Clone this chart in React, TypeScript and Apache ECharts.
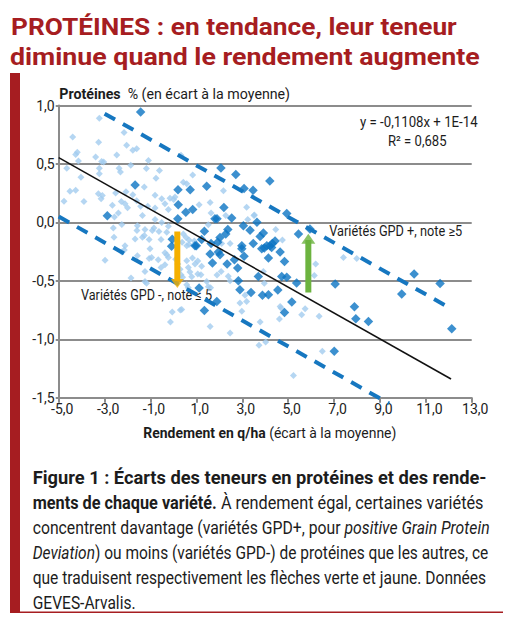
import React, { useEffect, useRef } from "react";
import * as echarts from "echarts";

// ---- Data (x: rendement écart q/ha, y: protéines écart %) ----
const lightPoints: [number, number][] = [
  [-3.23, 0.89], [-2.15, 0.77], [-4.39, 0.73], [-3.26, 0.685], [-2.04, 0.66], [-1.77, 0.617], [-1.6, 0.63],
  [-4.19, 0.6], [-4.26, 0.58], [-2.47, 0.577], [-3.39, 0.56], [-4.14, 0.525], [-3.13, 0.52], [-3.04, 0.517],
  [-1.09, 0.53], [0.33, 0.574], [-4.65, 0.463], [-3.23, 0.463], [-2.37, 0.463], [-2.31, 0.43], [-1.86, 0.488],
  [-1.18, 0.46], [-0.76, 0.377], [-0.61, 0.443], [-3.23, 0.417], [-4.03, 0.386], [0.43, 0.343], [0.58, 0.33],
  [0.84, 0.406], [-4.51, 0.266], [-4.26, 0.275], [-3.27, 0.246], [-3.1, 0.23], [-3.15, 0.203], [-2.52, 0.252],
  [-2.07, 0.263], [-1.77, 0.237], [-1.27, 0.303], [-0.8, 0.232], [-0.51, 0.203], [-0.15, 0.206], [0.07, 0.217],
  [-4.77, 0.18], [-3.9, 0.178], [-2.66, 0.146], [-2.27, 0.178], [-2.11, 0.16], [-2.0, 0.126], [-1.6, 0.186],
  [-1.43, 0.138], [-1.12, 0.138], [-0.8, 0.123], [-0.37, 0.16], [-0.22, 0.11], [0.01, 0.195], [-2.57, 0.047],
  [-2.4, 0.08], [-1.35, 0.058], [-0.8, 0.024], [-0.51, 0.0], [-2.25, -0.019], [-1.57, -0.028], [-1.59, -0.07],
  [-2.62, -0.048], [-2.59, -0.127], [-1.24, -0.06], [-0.85, -0.048], [-0.92, -0.07], [-0.63, -0.079],
  [-0.29, -0.085], [-0.22, -0.033], [-0.54, -0.147], [-1.06, -0.147], [-1.35, -0.127], [-1.27, -0.113],
  [-1.67, -0.142], [0.43, -0.1], [0.55, -0.13], [0.68, -0.15], [0.58, -0.2], [0.38, -0.17], [0.68, -0.19],
  [0.91, -0.16], [-2.11, -0.2],
  [-2.98, -0.325], [-2.14, -0.236], [-2.25, -0.254], [-1.02, -0.225], [-1.06, -0.31], [-0.95, -0.3],
  [-0.66, -0.32], [-0.37, -0.362], [-0.54, -0.385], [-1.24, -0.42], [-0.29, -0.277], [-0.22, -0.3],
  [-0.37, -0.26], [0.1, -0.316], [0.19, -0.356], [0.29, -0.4], [0.58, -0.328], [0.65, -0.385], [0.72, -0.425],
  [0.8, -0.465], [0.4, -0.47], [0.33, -0.448], [0.83, -0.305], [0.94, -0.356], [1.06, -0.442], [-1.85, -0.476],
  [-1.24, -0.505], [0.58, -0.533], [0.65, -0.56], [-0.05, -0.767], [0.3, -0.75], [0.36, -0.745], [-0.13, -0.852],
  [-1.57, -0.285], [-1.17, -0.52], [1.62, -0.56],
  [1.06, -0.33], [1.23, -0.376], [1.2, -0.448], [1.45, -0.505], [1.52, -0.55], [2.39, -0.46], [2.47, -0.5],
  [2.08, -0.42], [1.9, -0.45], [3.12, -0.624], [3.19, -0.676], [1.6, -0.89], [2.47, -0.946], [2.98, -0.76],
  [3.78, -0.852], [3.73, -1.052], [4.02, -1.023], [4.69, -0.733], [5.23, -1.309], [5.59, -0.79], [5.74, -0.738],
  [6.35, -0.804], [6.49, -1.103], [6.2, -0.356], [6.14, -0.454], [3.96, -0.52], [3.92, -0.42], [7.41, -0.3],
  [7.99, -0.31], [4.65, -0.72], [4.62, -0.826], [2.9, -0.69],
  [2.18, 0.27], [3.19, 0.13], [3.53, 0.064], [1.12, 0.15], [1.6, 0.17], [1.64, 0.08], [2.28, 0.058],
  [1.52, -0.02], [2.47, -0.18], [2.1, -0.18], [4.75, -0.15], [4.46, -0.06], [3.24, 0.024], [3.51, 0.058],
];

const darkPoints: [number, number][] = [
  [-1.43, 0.944], [-1.67, 0.32], [-2.88, 0.057], [0.2, 0.28], [0.73, 0.28], [0.84, 0.11], [0.21, 0.15],
  [0.54, 0.086], [0.19, 0.03], [-0.05, -0.145], [-0.08, -0.205], [1.0, -0.2], [1.45, 0.31], [2.07, 0.465],
  [2.72, 0.41], [3.08, 0.29], [2.2, 0.128], [3.47, 0.274], [4.2, 0.354],
  [1.81, 0.032], [1.9, 0.032], [2.54, 0.038], [3.64, 0.001], [3.05, -0.028], [4.94, 0.075], [5.45, -0.1],
  [5.95, -0.056], [2.37, -0.06], [2.28, -0.1], [3.34, -0.068], [3.92, -0.09], [3.78, -0.12], [4.43, -0.16],
  [4.31, -0.18], [4.21, -0.2], [4.07, -0.2], [3.48, -0.18], [2.98, -0.2], [2.03, -0.13], [1.93, -0.17],
  [1.64, -0.18], [1.23, -0.147], [1.35, -0.076], [0.94, -0.2],
  [1.6, -0.271], [1.7, -0.348], [1.96, -0.254], [2.03, -0.276], [2.34, -0.356], [2.66, -0.319], [2.8, -0.39],
  [2.98, -0.225], [3.08, -0.29], [3.85, -0.225], [3.96, -0.22], [4.14, -0.305], [4.28, -0.214], [4.65, -0.254],
  [4.84, -0.334], [3.7, -0.462], [4.72, -0.462], [4.94, -0.47], [2.83, -0.499], [2.9, -0.576], [3.38, -0.599],
  [3.88, -0.624], [4.14, -0.619], [4.55, -0.579], [5.37, -0.519], [5.16, -0.681], [4.84, -0.77], [1.12, -0.562],
  [1.89, -0.676], [1.35, -0.755], [7.01, -1.103],
  [10.49, -0.442], [11.62, -0.522], [9.95, -0.613], [7.89, -0.721], [7.95, -0.824], [8.5, -0.847],
  [12.13, -0.91], [7.05, -0.527],
];

const trendLine: [number, number][] = [[-5.0, 0.554], [12.1, -1.34]];
const upperDashed: [number, number][] = [[-3.0, 0.93], [11.85, -0.71]];
const lowerDashed: [number, number][] = [[-5.0, 0.05], [9.4, -1.55]];
const yellowBar: [number, number][] = [[0.17, -0.077], [0.17, -0.5]];
const yellowHead: [number, number][] = [[0.17, -0.523]];
const greenBar: [number, number][] = [[5.88, -0.6], [5.88, -0.15]];
const greenHead: [number, number][] = [[5.88, -0.14]];

const xTickMin = -5;
const xTickMax = 13;
const xTickStep = 2;
const yTickMin = -1.5;
const yTickMax = 1.0;
const yTickStep = 0.5;

const titleLines = ["PROTÉINES : en tendance, leur teneur", "diminue quand le rendement augmente"];
const yAxisTitle = ["Protéines", "  % (en écart à la moyenne)"];
const xAxisTitle = ["Rendement en q/ha", " (écart à la moyenne)"];
const equationText = "y = -0,1108x + 1E-14";
const r2Text = "R² = 0,685";
const gpdPlusText = "Variétés GPD +, note ≥5";
const gpdMinusText = "Variétés GPD -, note ≤ 5";

type Seg = { s: "b" | "n" | "i"; t: string };
const captionLines: Seg[][] = [
  [{ s: "b", t: "Figure 1 : Écarts des teneurs en protéines et des rende-" }],
  [{ s: "b", t: "ments de chaque variété." }, { s: "n", t: " À rendement égal, certaines variétés" }],
  [{ s: "n", t: "concentrent davantage (variétés GPD+, pour " }, { s: "i", t: "positive Grain Protein" }],
  [{ s: "i", t: "Deviation" }, { s: "n", t: ") ou moins (variétés GPD-) de protéines que les autres, ce" }],
  [{ s: "n", t: "que traduisent respectivement les flèches verte et jaune. Données" }],
  [{ s: "n", t: "GEVES-Arvalis." }],
];

const X_OFF = 5; // axis shift so that min is a multiple of the interval
const shift = (pts: [number, number][]) => pts.map(([x, y]) => [x + X_OFF, y]);
const fmt = (v: number) => v.toFixed(1).replace(".", ",");

const FAMILY = "Roboto";

let measureCtx: CanvasRenderingContext2D | null = null;
function measure(segs: Seg[], size: number): number {
  if (!measureCtx) measureCtx = document.createElement("canvas").getContext("2d");
  let w = 0;
  for (const sg of segs) {
    const weight = sg.s === "b" ? "bold" : "normal";
    const style = sg.s === "i" ? "italic" : "normal";
    measureCtx!.font = `${style} ${weight} ${size}px ${FAMILY}`;
    w += measureCtx!.measureText(sg.t).width;
  }
  return w;
}

function richText(segs: Seg[], x: number, y: number, size: number, fill: string, scale: number) {
  const mk = (weight: string, style: string) => ({
    fontSize: size, fontFamily: FAMILY, fontWeight: weight, fontStyle: style, fill,
  });
  return {
    type: "text",
    x,
    y,
    scaleX: scale,
    silent: true,
    style: {
      text: segs.map((sg) => `{${sg.s}|${sg.t}}`).join(""),
      rich: { b: mk("bold", "normal"), n: mk("normal", "normal"), i: mk("normal", "italic") },
      fontSize: size,
      fontFamily: FAMILY,
      fill,
      align: "left",
      verticalAlign: "middle",
    },
  };
}

function fitted(segs: Seg[], x: number, y: number, size: number, fill: string, width: number) {
  return richText(segs, x, y, size, fill, width / measure(segs, size));
}

export default function App() {
  const ref = useRef<HTMLDivElement>(null);
  useEffect(() => {
    if (!ref.current) return;
    const chart = echarts.init(ref.current, undefined, { renderer: "svg" });
    const red = "#a61d21";
    const grey = "#8c8c8c";
    const dash = "#1677c0";
    const txt = "#1c1c1c";

    const capScale = 454 / measure(captionLines[4], 18);
    const caption = captionLines.map((ln, i) => {
      const targets = [454, 451, 457, 456, 454];
      const y = 477.5 + i * 25;
      if (i < 5) return fitted(ln, 32.7, y, 18, txt, targets[i]);
      return richText(ln, 32.7, y, 18, txt, capScale);
    });

    const graphic: any[] = [
      { type: "rect", shape: { x: 10, y: 73, width: 10, height: 539 }, style: { fill: red }, silent: true },
      { type: "rect", shape: { x: 10, y: 611.5, width: 493, height: 1.5 }, style: { fill: red }, silent: true },
      fitted([{ s: "b", t: titleLines[0] }], 11, 26.7, 24, red, 446),
      fitted([{ s: "b", t: titleLines[1] }], 10, 56.5, 24, red, 470),
      fitted([{ s: "b", t: yAxisTitle[0] }, { s: "n", t: yAxisTitle[1] }], 59.3, 94, 14, txt, 231),
      fitted([{ s: "b", t: xAxisTitle[0] }, { s: "n", t: xAxisTitle[1] }], 143.3, 433.3, 14, txt, 253),
      fitted([{ s: "n", t: equationText }], 360, 121.7, 14, txt, 117.7),
      fitted([{ s: "n", t: r2Text }], 388, 140.8, 14, txt, 58.7),
      fitted([{ s: "n", t: gpdPlusText }], 329.3, 231.7, 14, txt, 133),
      fitted([{ s: "n", t: gpdMinusText }], 81, 295.5, 14, txt, 131),
      ...caption,
    ];

    chart.setOption({
      animation: false,
      backgroundColor: "#ffffff",
      grid: { left: 58.7, right: 44.3, top: 105.5, bottom: 228.3, containLabel: false },
      xAxis: {
        type: "value",
        min: xTickMin + X_OFF,
        max: xTickMax + X_OFF,
        interval: xTickStep,
        axisLine: { show: true, onZero: false, lineStyle: { color: grey, width: 2 } },
        axisTick: { show: true, length: 5, lineStyle: { color: grey, width: 2 } },
        splitLine: { show: false },
        axisLabel: {
          formatter: (v: number) => fmt(v - X_OFF),
          color: "#222",
          fontSize: 14,
          fontFamily: FAMILY,
          margin: 4,
          padding: [0, 0, 0, 7],
        },
      },
      yAxis: {
        type: "value",
        min: yTickMin,
        max: yTickMax,
        interval: yTickStep,
        axisLine: { show: true, lineStyle: { color: grey, width: 2 } },
        axisTick: { show: true, length: 3, lineStyle: { color: grey, width: 2 } },
        splitLine: { show: true, lineStyle: { color: grey, width: 2 } },
        axisLabel: { formatter: (v: number) => fmt(v), color: "#222", fontSize: 14, fontFamily: FAMILY, margin: 4 },
      },
      series: [
        {
          type: "scatter", data: shift(lightPoints), symbol: "diamond", symbolSize: 7,
          itemStyle: { color: "#a2ccef" }, silent: true, z: 2,
        },
        {
          type: "scatter", data: shift(darkPoints), symbol: "diamond", symbolSize: 9.5,
          itemStyle: { color: "#0b74c3" }, silent: true, z: 3,
        },
        {
          type: "line", data: shift(trendLine), symbol: "none", silent: true, z: 4,
          lineStyle: { color: "#111", width: 1.5 },
        },
        {
          type: "line", data: shift(upperDashed), symbol: "none", silent: true, z: 4, clip: false,
          lineStyle: { color: dash, width: 4, type: [12, 9] },
        },
        {
          type: "line", data: shift(lowerDashed), symbol: "none", silent: true, z: 4, clip: false,
          lineStyle: { color: dash, width: 4, type: [12, 9] },
        },
        {
          type: "line", data: shift(yellowBar), symbol: "none", silent: true, z: 5,
          lineStyle: { color: "#f5b000", width: 6 },
        },
        {
          type: "scatter", data: shift(yellowHead), symbol: "triangle", symbolSize: [13, 9], symbolRotate: 180,
          itemStyle: { color: "#f5b000" }, silent: true, z: 5,
        },
        {
          type: "line", data: shift(greenBar), symbol: "none", silent: true, z: 5,
          lineStyle: { color: "#6cb33f", width: 6 },
        },
        {
          type: "scatter", data: shift(greenHead), symbol: "triangle", symbolSize: [14, 10],
          itemStyle: { color: "#6cb33f" }, silent: true, z: 5,
        },
      ],
      graphic,
    });
    return () => chart.dispose();
  }, []);

  return (
    <div
      ref={ref}
      style={{ position: "fixed", left: 0, top: 0, width: 516, height: 626, background: "#fff" }}
    />
  );
}
